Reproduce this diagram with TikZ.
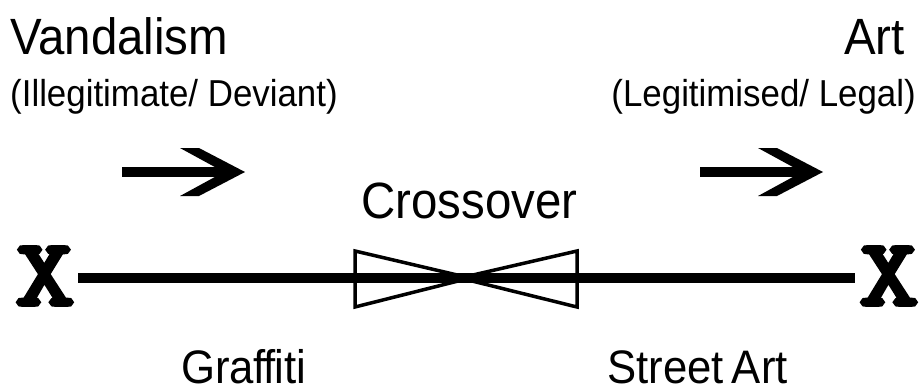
\documentclass[tikz,border=0pt]{standalone}
\usepackage{fontspec}
\setmainfont{Liberation Sans}[FakeStretch=0.93]
\newfontfamily\markfont{Latin Modern Mono}[FakeBold=4]
\begin{document}
\begin{tikzpicture}[x=1pt,y=-1pt,
  title/.style={inner sep=0pt,font=\fontsize{51}{51}\selectfont},
  label/.style={inner sep=0pt,font=\fontsize{47}{47}\selectfont},
  subtitle/.style={inner sep=0pt,font=\fontsize{37.5}{37.5}\selectfont},
  endmark/.style={inner sep=0pt,font=\markfont\fontsize{95}{95}\selectfont},
  axis/.style={line width=10pt},
  bowtie/.style={line width=3.5pt,line join=miter,miter limit=20},
  pics/bigarrow/.style={code={
    \fill (0,-5) rectangle (108,5);
    \fill (58,-24) -- (77,-24) -- (123,0) -- (77,24) -- (58,24) -- (102,0) -- cycle;
  }}]
\useasboundingbox (0,0) rectangle (922,391);

% headings
\node[title,anchor=base west] (vand) at (10,54) {Vandalism};
\node[subtitle,anchor=base west] (vandsub) at (10,106) {(Illegitimate/ Deviant)};
\node[title,anchor=base east] (art) at (905,54) {Art};
\node[subtitle,anchor=base east] (artsub) at (916,106) {(Legitimised/ Legal)};

% direction arrows
\pic at (122,172) {bigarrow};
\pic at (700,172) {bigarrow};

% the continuum
\node[endmark,anchor=base] (xl) at (45,305) {\scalebox{1.22}[1]{X}};
\node[endmark,anchor=base] (xr) at (889,305) {\scalebox{1.22}[1]{X}};
\coordinate (lend) at (78,278);
\coordinate (rend) at (855,278);
\draw[axis] (lend) -- (rend);

% crossover bow tie
\coordinate (cross) at (465,278);
\draw[bowtie] (355,251) -- (470,278) -- (355,307) -- cycle;
\draw[bowtie] (577,251) -- (460,278) -- (577,307) -- cycle;
\node[title,anchor=base west] (crosslbl) at (361,218) {Crossover};

% bottom labels
\node[label,anchor=base west] (graf) at (181,383) {Gra\kern-1pt f\kern-1.5pt f\kern-1.5pt iti};
\node[label,anchor=base west] (street) at (607,383) {Street\kern-4pt\ Art};
\end{tikzpicture}
\end{document}
